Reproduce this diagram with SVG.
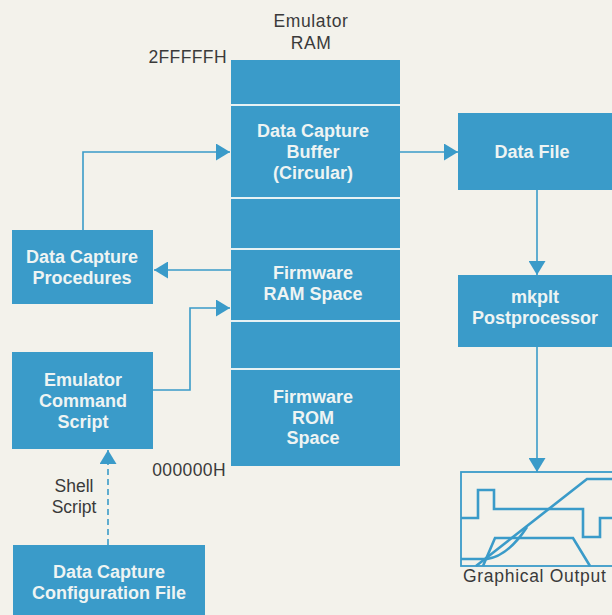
<svg xmlns="http://www.w3.org/2000/svg" width="612" height="615" viewBox="0 0 612 615">
<style>
.box{fill:#3a9bc9}
.bt{fill:#eef4f3;font-family:"Liberation Sans",Arial,sans-serif;font-weight:bold;font-size:18px;text-anchor:middle}
.lt{fill:#3a3a3a;font-family:"Liberation Sans",Arial,sans-serif;font-size:17.5px}
.ln{fill:none;stroke:#3a9bc9;stroke-width:1.6}
.div{stroke:#e6f2f4;stroke-width:2.2}
.g{fill:none;stroke:#3a9bc9;stroke-width:2.6;stroke-linejoin:miter}
</style>
<defs>
<marker id="ah" markerUnits="userSpaceOnUse" markerWidth="15" markerHeight="17" refX="14" refY="8.5" orient="auto">
<path d="M0,0 L14,8.5 L0,17 Z" fill="#3a9bc9"/>
</marker>
</defs>
<rect width="612" height="615" fill="#f3f2eb"/>

<g id="emulator-ram">
<text class="lt" x="311" y="27" text-anchor="middle" letter-spacing="0.6">Emulator</text>
<text class="lt" x="311" y="49" text-anchor="middle" letter-spacing="0.6">RAM</text>
<text class="lt" x="227" y="63" text-anchor="end" font-size="18" letter-spacing="0.4">2FFFFFH</text>
<text class="lt" x="226" y="476" text-anchor="end" font-size="18" letter-spacing="0.4">000000H</text>
<rect class="box" x="231" y="60" width="169" height="406"/>
<line class="div" x1="231" y1="105" x2="400" y2="105"/>
<line class="div" x1="231" y1="198" x2="400" y2="198"/>
<line class="div" x1="231" y1="249" x2="400" y2="249"/>
<line class="div" x1="231" y1="321" x2="400" y2="321"/>
<line class="div" x1="231" y1="369" x2="400" y2="369"/>
</g>
<g id="data-capture-buffer">
<text class="bt" x="313" y="137">Data Capture</text>
<text class="bt" x="313" y="158">Buffer</text>
<text class="bt" x="313" y="179">(Circular)</text>
</g>
<g id="firmware-ram">
<text class="bt" x="313" y="279">Firmware</text>
<text class="bt" x="313" y="300">RAM Space</text>
</g>
<g id="firmware-rom">
<text class="bt" x="313" y="403">Firmware</text>
<text class="bt" x="313" y="424">ROM</text>
<text class="bt" x="313" y="444">Space</text>
</g>

<g id="data-capture-procedures">
<rect class="box" x="12" y="230" width="141" height="74"/>
<text class="bt" x="82" y="263">Data Capture</text>
<text class="bt" x="82" y="284">Procedures</text>
</g>
<g id="emulator-command-script">
<rect class="box" x="12" y="352" width="141" height="97"/>
<text class="bt" x="83" y="386">Emulator</text>
<text class="bt" x="83" y="407">Command</text>
<text class="bt" x="83" y="428">Script</text>
</g>
<g id="config-file">
<rect class="box" x="13" y="545" width="192" height="70"/>
<text class="bt" x="109" y="578">Data Capture</text>
<text class="bt" x="109" y="599">Configuration File</text>
</g>
<g id="data-file">
<rect class="box" x="458" y="113" width="154" height="77"/>
<text class="bt" x="532" y="158">Data File</text>
</g>
<g id="mkplt">
<rect class="box" x="458" y="275" width="154" height="72"/>
<text class="bt" x="535" y="303" font-size="13.5">mkplt</text>
<text class="bt" x="535" y="324">Postprocessor</text>
</g>
<g id="graphical-output">
<rect x="461" y="472" width="160" height="94" fill="none" stroke="#3a9bc9" stroke-width="1.8"/>
<path class="g" d="M461,518 H478 V490 H494 V509 H583 V537 H600 V518 H612"/>
<path class="g" d="M476,566 L587,479 H612"/>
<path class="g" d="M483,566 L495,538 H573 L590,566"/>
<path class="g" d="M461,559 H487 Q508,556 527,527"/>
<text class="lt" x="463" y="582" font-size="18" letter-spacing="0.7">Graphical Output</text>
</g>

<g id="connectors">
<path class="ln" d="M83,230 V152 H230" marker-end="url(#ah)"/>
<path class="ln" d="M231,270 H154" marker-end="url(#ah)"/>
<path class="ln" d="M153,390 H190 V308 H230" marker-end="url(#ah)"/>
<path class="ln" d="M400,152 H458" marker-end="url(#ah)"/>
<path class="ln" d="M537,190 V275" marker-end="url(#ah)"/>
<path class="ln" d="M537,347 V472" marker-end="url(#ah)"/>
<path class="ln" d="M108,545 V450" stroke-dasharray="6,4" marker-end="url(#ah)"/>
<text class="lt" x="74" y="492" text-anchor="middle" font-size="17">Shell</text>
<text class="lt" x="74" y="513" text-anchor="middle" font-size="17">Script</text>
</g>
</svg>
